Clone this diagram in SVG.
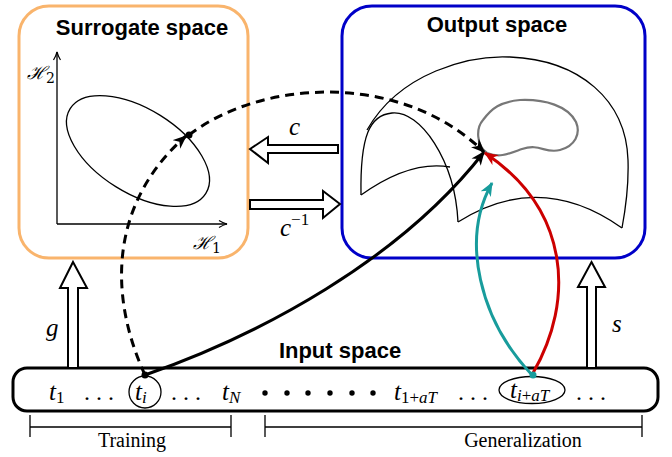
<svg xmlns="http://www.w3.org/2000/svg" width="672" height="457" viewBox="0 0 672 457">
<style>
.title{font-family:"Liberation Sans",Arial,sans-serif;font-weight:bold;font-size:22px;text-anchor:middle;fill:#000}
.m{font-family:"Liberation Serif","DejaVu Serif",serif;font-style:italic;font-size:25px;fill:#000}
.h{font-family:"DejaVu Serif",serif;font-style:italic;font-size:18px;fill:#000}
.sub{font-size:17px;font-style:italic}
.subn{font-size:17px;font-style:normal}
.dots{font-family:"Liberation Serif",serif;font-size:24px;fill:#000}
.lbl{font-family:"Liberation Serif","Times New Roman",serif;font-size:20px;text-anchor:middle;fill:#000}
.thin{fill:none;stroke:#000;stroke-width:1.3}
.hollow{fill:#fff;stroke:#000;stroke-width:2;stroke-linejoin:miter}
.conn{fill:none;stroke-width:3}
</style>
<defs>
<marker id="ax" viewBox="0 0 10 10" refX="9" refY="5" markerWidth="10" markerHeight="10" markerUnits="userSpaceOnUse" orient="auto">
<path d="M1,1.5 Q5,4 9,5 Q5,6 1,8.5" fill="none" stroke="#000" stroke-width="1.2"/>
</marker>
<marker id="ahK" viewBox="0 0 12 10" refX="11" refY="5" markerWidth="14" markerHeight="12" markerUnits="userSpaceOnUse" orient="auto">
<path d="M0,0 L12,5 L0,10 L3.5,5 z" fill="#000"/>
</marker>
<marker id="ahR" viewBox="0 0 12 10" refX="11" refY="5" markerWidth="14" markerHeight="12" markerUnits="userSpaceOnUse" orient="auto">
<path d="M0,0 L12,5 L0,10 L3.5,5 z" fill="#CC0000"/>
</marker>
<marker id="ahT" viewBox="0 0 12 10" refX="11" refY="5" markerWidth="14" markerHeight="12" markerUnits="userSpaceOnUse" orient="auto">
<path d="M0,0 L12,5 L0,10 L3.5,5 z" fill="#189C9C"/>
</marker>
</defs>

<g id="surrogate">
<rect x="19" y="6" width="229" height="252" rx="30" ry="30" fill="#fff" stroke="#F9B46C" stroke-width="3"/>
<text class="title" x="142" y="35">Surrogate space</text>
<line class="thin" x1="57" y1="224" x2="57" y2="52" marker-end="url(#ax)"/>
<line class="thin" x1="57" y1="224" x2="227" y2="224" marker-end="url(#ax)"/>
<text class="h" x="27" y="79">ℋ<tspan font-size="14" font-style="normal" dy="4">2</tspan></text>
<text class="h" x="193" y="249">ℋ<tspan font-size="14" font-style="normal" dy="4">1</tspan></text>
<ellipse cx="138" cy="151" rx="80" ry="42" transform="rotate(32 138 151)" class="thin"/>
<circle cx="189" cy="135" r="3.5" fill="#000"/>
</g>

<g id="output">
<rect x="342" y="6" width="303" height="252" rx="30" ry="30" fill="#fff" stroke="#0000C8" stroke-width="3"/>
<text class="title" x="497" y="32">Output space</text>
<path class="thin" d="M367,130 C400,72 470,55 510,57 C580,60 626,100 628,160 C629,190 625,212 622,228"/>
<path class="thin" d="M622,228 Q540,170 458,222"/>
<path class="thin" d="M458,222 C455,160 420,110 392,113 C370,115 360,135 361,195"/>
<path class="thin" d="M361,195 Q410,160 450,167"/>
<path d="M487,153 C476,145 476,128 483,120 C492,108 500,102 520,100 C545,99 568,106 576,122 C581,134 575,146 560,150 C545,154 540,143 522,149 C508,154 500,158 487,153 z" fill="none" stroke="#777" stroke-width="2.2"/>
</g>

<g id="input">
<rect x="13" y="368" width="645" height="43" rx="14" ry="14" fill="#fff" stroke="#000" stroke-width="3"/>
<text class="title" x="340" y="358">Input space</text>
<text class="m" x="49" y="400">t<tspan class="subn" dy="3">1</tspan></text>
<text class="dots" x="84" y="400">. . .</text>
<circle cx="145" cy="392" r="16" class="thin"/>
<text class="m" x="135" y="400">t<tspan class="sub" dy="3">i</tspan></text>
<text class="dots" x="171" y="400">. . .</text>
<text class="m" x="222" y="400">t<tspan class="sub" dy="3">N</tspan></text>
<g fill="#000">
<circle cx="265" cy="393" r="2.7"/><circle cx="287" cy="393" r="2.7"/><circle cx="308" cy="393" r="2.7"/>
<circle cx="330" cy="393" r="2.7"/><circle cx="352" cy="393" r="2.7"/><circle cx="373" cy="393" r="2.7"/>
</g>
<text class="m" x="394" y="400">t<tspan class="subn" dy="3">1+</tspan><tspan class="sub">aT</tspan></text>
<text class="dots" x="458" y="400">. . .</text>
<ellipse cx="532" cy="390" rx="33" ry="13.5" class="thin"/>
<text class="m" x="510" y="398">t<tspan class="sub" dy="3">i</tspan><tspan class="subn">+</tspan><tspan class="sub">aT</tspan></text>
<text class="dots" x="576" y="400">. . .</text>
</g>

<g id="brackets">
<path class="thin" d="M30,415 V437 M30,427 H231 M231,415 V437" stroke-width="1.6"/>
<text class="lbl" x="132" y="447">Training</text>
<path class="thin" d="M265,415 V437 M265,427 H642 M642,415 V437" stroke-width="1.6"/>
<text class="lbl" x="523" y="447">Generalization</text>
</g>

<g id="maps">
<path class="hollow" d="M250,149 L268,137 L268,145 L338,145 L338,153 L268,153 L268,163 z"/>
<text class="m" x="289" y="135">c</text>
<path class="hollow" d="M340,204 L323,191 L323,200 L250,200 L250,209 L323,209 L323,218 z"/>
<text class="m" x="280" y="236">c<tspan font-size="17" font-style="normal" dy="-11">−1</tspan></text>
<path class="hollow" d="M73,262 L87,288 L78,288 L78,368 L68,368 L68,288 L60,288 z"/>
<text class="m" x="46" y="336">g</text>
<path class="hollow" d="M591.5,262 L605,287 L596,287 L596,368 L587,368 L587,287 L578,287 z"/>
<text class="m" x="612" y="332">s</text>
</g>

<g id="connectors">
<path class="conn" stroke="#000" stroke-dasharray="9,6" d="M145,375 C106,290 113,200 186,136" marker-end="url(#ahK)"/>
<path class="conn" stroke="#000" stroke-dasharray="9,6" d="M189,135 C260,80 400,70 484,152" marker-end="url(#ahK)"/>
<path class="conn" stroke="#000" d="M145,375 C260,335 400,260 484,152" marker-end="url(#ahK)"/>
<path class="conn" stroke="#CC0000" d="M533,373 C575,300 570,210 485,153" marker-end="url(#ahR)"/>
<path class="conn" stroke="#189C9C" d="M532,375 C480,320 460,240 492,183" marker-end="url(#ahT)"/>
<circle cx="145" cy="375" r="3.5" fill="#000"/>
<circle cx="533" cy="375" r="3.5" fill="#189C9C"/>
</g>
</svg>
